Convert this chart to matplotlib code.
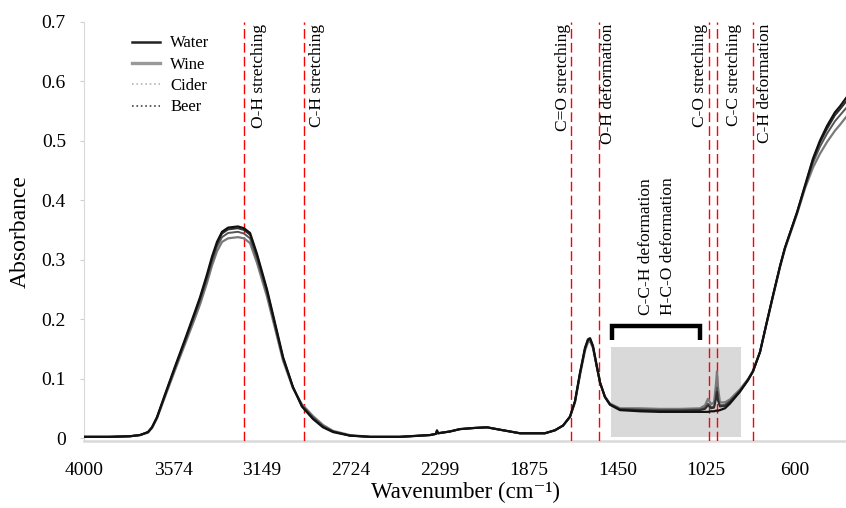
import matplotlib
matplotlib.use("Agg")
import matplotlib.pyplot as plt
from matplotlib.lines import Line2D

plt.rcParams['font.family'] = ['Liberation Serif', 'DejaVu Serif']

# wavenumber grid (cm-1)
wn = [4000, 3876, 3780, 3732, 3694, 3675, 3651, 3613, 3565, 3517,
      3469, 3445, 3412, 3388, 3364, 3340, 3311, 3264, 3235, 3206,
      3173, 3125, 3087, 3048, 3001, 2958, 2905, 2857, 2809, 2728,
      2632, 2489, 2345, 2317, 2312, 2307, 2250, 2202, 2130, 2073,
      2011, 1915, 1796, 1748, 1709, 1676, 1652, 1628, 1604, 1590,
      1580, 1566, 1547, 1532, 1509, 1485, 1437, 1341, 1246, 1150,
      1054, 1030, 1016, 1001, 987, 978, 973, 968, 959, 935,
      911, 863, 825, 801, 767, 738, 705, 671, 648, 590,
      552, 514, 481, 447, 409, 385, 356]

water = [0.002, 0.002, 0.003, 0.005, 0.010, 0.018, 0.035, 0.073, 0.120, 0.166,
         0.213, 0.237, 0.275, 0.305, 0.330, 0.347, 0.354, 0.356, 0.353, 0.345,
         0.310, 0.250, 0.194, 0.136, 0.086, 0.053, 0.032, 0.018, 0.010, 0.004,
         0.002, 0.002, 0.005, 0.007, 0.013, 0.008, 0.011, 0.015, 0.017, 0.018,
         0.014, 0.008, 0.008, 0.013, 0.021, 0.036, 0.062, 0.110, 0.152, 0.166,
         0.168, 0.155, 0.120, 0.093, 0.069, 0.056, 0.047, 0.045, 0.044, 0.044,
         0.044, 0.044, 0.044, 0.045, 0.045, 0.046, 0.046, 0.046, 0.047, 0.050,
         0.058, 0.078, 0.097, 0.112, 0.145, 0.190, 0.240, 0.290, 0.320, 0.380,
         0.425, 0.470, 0.500, 0.525, 0.548, 0.558, 0.572]

beer = [0.002, 0.002, 0.003, 0.005, 0.010, 0.018, 0.035, 0.072, 0.119, 0.164,
        0.211, 0.235, 0.272, 0.302, 0.327, 0.344, 0.351, 0.353, 0.350, 0.342,
        0.307, 0.248, 0.192, 0.135, 0.086, 0.054, 0.033, 0.019, 0.011, 0.004,
        0.002, 0.002, 0.005, 0.007, 0.012, 0.008, 0.011, 0.015, 0.017, 0.018,
        0.014, 0.008, 0.008, 0.013, 0.021, 0.036, 0.062, 0.109, 0.151, 0.165,
        0.167, 0.154, 0.119, 0.093, 0.069, 0.057, 0.048, 0.047, 0.046, 0.046,
        0.047, 0.049, 0.055, 0.050, 0.051, 0.065, 0.078, 0.063, 0.053, 0.054,
        0.061, 0.079, 0.098, 0.112, 0.145, 0.190, 0.240, 0.290, 0.320, 0.380,
        0.424, 0.468, 0.497, 0.520, 0.543, 0.553, 0.566]

cider = [0.002, 0.002, 0.003, 0.005, 0.010, 0.017, 0.034, 0.071, 0.117, 0.162,
         0.208, 0.231, 0.268, 0.297, 0.322, 0.338, 0.345, 0.347, 0.344, 0.336,
         0.302, 0.244, 0.189, 0.133, 0.085, 0.055, 0.035, 0.020, 0.011, 0.004,
         0.002, 0.002, 0.005, 0.007, 0.012, 0.008, 0.011, 0.015, 0.017, 0.018,
         0.014, 0.008, 0.008, 0.013, 0.021, 0.036, 0.061, 0.108, 0.150, 0.164,
         0.166, 0.153, 0.119, 0.093, 0.070, 0.057, 0.049, 0.048, 0.047, 0.047,
         0.048, 0.051, 0.058, 0.052, 0.053, 0.070, 0.085, 0.066, 0.055, 0.056,
         0.062, 0.080, 0.098, 0.112, 0.145, 0.190, 0.240, 0.290, 0.320, 0.379,
         0.422, 0.463, 0.490, 0.512, 0.533, 0.543, 0.555]

wine = [0.002, 0.002, 0.003, 0.005, 0.009, 0.017, 0.033, 0.069, 0.114, 0.158,
        0.202, 0.225, 0.261, 0.290, 0.314, 0.330, 0.336, 0.338, 0.336, 0.328,
        0.295, 0.238, 0.185, 0.130, 0.084, 0.057, 0.037, 0.022, 0.012, 0.005,
        0.002, 0.002, 0.005, 0.007, 0.012, 0.008, 0.011, 0.015, 0.017, 0.018,
        0.014, 0.008, 0.008, 0.013, 0.021, 0.035, 0.060, 0.106, 0.147, 0.161,
        0.163, 0.151, 0.118, 0.093, 0.070, 0.058, 0.050, 0.050, 0.049, 0.049,
        0.050, 0.055, 0.066, 0.057, 0.060, 0.090, 0.112, 0.085, 0.060, 0.060,
        0.065, 0.082, 0.099, 0.113, 0.145, 0.189, 0.238, 0.288, 0.318, 0.377,
        0.420, 0.455, 0.478, 0.498, 0.517, 0.527, 0.540]

x_ticks = [4000, 3574, 3149, 2724, 2299, 1875, 1450, 1025, 600]
y_ticks = [0, 0.1, 0.2, 0.3, 0.4, 0.5, 0.6, 0.7]
y_ticklabels = ['0', '0.1', '0.2', '0.3', '0.4', '0.5', '0.6', '0.7']

# assignment lines, their labels and where the labels sit
band_lines = [3235, 2950, 1670, 1537, 1010, 973, 800]
band_labels = ['O-H stretching', 'C-H stretching', 'C=O stretching', 'O-H deformation',
               'C-O stretching', 'C-C stretching', 'C-H deformation']
band_text_x = [3165, 2888, 1708, 1496, 1056, 893, 745]

fig = plt.figure(figsize=(8.46, 5.08), dpi=100)
ax = fig.add_axes([0.0993, 0.1319, 0.9007, 0.8248])

# grey region + bracket
ax.fill_between([1480, 858], 0.002, 0.153, color='#d9d9d9', lw=0, zorder=1)
ax.plot([1475, 1475, 1054, 1054], [0.165, 0.188, 0.188, 0.165], color='black',
        lw=3.2, solid_joinstyle='miter', solid_capstyle='butt', zorder=2)
ax.text(1313, 0.207, 'C-C-H deformation', rotation=90, ha='center', va='bottom', fontsize=12.5)
ax.text(1207, 0.207, 'H-C-O deformation', rotation=90, ha='center', va='bottom', fontsize=12.5)

for xl, lab, xt in zip(band_lines, band_labels, band_text_x):
    ax.axvline(xl, color='red', lw=1.0, ls=(0, (7, 3)), zorder=3)
    ax.text(xt, 0.697, lab, rotation=90, ha='center', va='top', fontsize=12.5)

ax.plot(wn, wine, color='#7a7a7a', lw=1.6, zorder=4)
ax.plot(wn, cider, color='#555555', lw=1.4, zorder=5)
ax.plot(wn, beer, color='#2e2e2e', lw=1.4, zorder=6)
ax.plot(wn, water, color='#111111', lw=1.6, zorder=7)

handles = [Line2D([], [], color='#222222', lw=1.8),
           Line2D([], [], color='#999999', lw=2.4),
           Line2D([], [], color='#b5b5b5', lw=1.2, ls=':'),
           Line2D([], [], color='#444444', lw=1.2, ls=':')]
ax.legend(handles, ['Water', 'Wine', 'Cider', 'Beer'], loc='upper left',
          bbox_to_anchor=(0.054, 0.984), frameon=False, fontsize=12,
          borderaxespad=0, labelspacing=0.32, handlelength=1.7, handletextpad=0.6)

ax.set_xlim(4000, 356)
ax.set_ylim(-0.005, 0.7)
ax.set_xticks(x_ticks)
ax.set_xticklabels([str(v) for v in x_ticks])
ax.set_yticks(y_ticks)
ax.set_yticklabels(y_ticklabels)
ax.tick_params(axis='x', length=0, pad=15, labelsize=14)
ax.tick_params(axis='y', length=3, color='#d0d0d0', pad=10, labelsize=14)
for s in ['top', 'right']:
    ax.spines[s].set_visible(False)
ax.spines['bottom'].set_color('#d9d9d9')
ax.spines['bottom'].set_linewidth(1.8)
ax.spines['left'].set_color('#d9d9d9')
ax.spines['left'].set_linewidth(0.8)

ax.set_xlabel('Wavenumber (cm\u207b\u00b9)', fontsize=16.5, labelpad=2)
ax.set_ylabel('Absorbance', fontsize=17, labelpad=8)

fig.savefig('out.png', dpi=100)
